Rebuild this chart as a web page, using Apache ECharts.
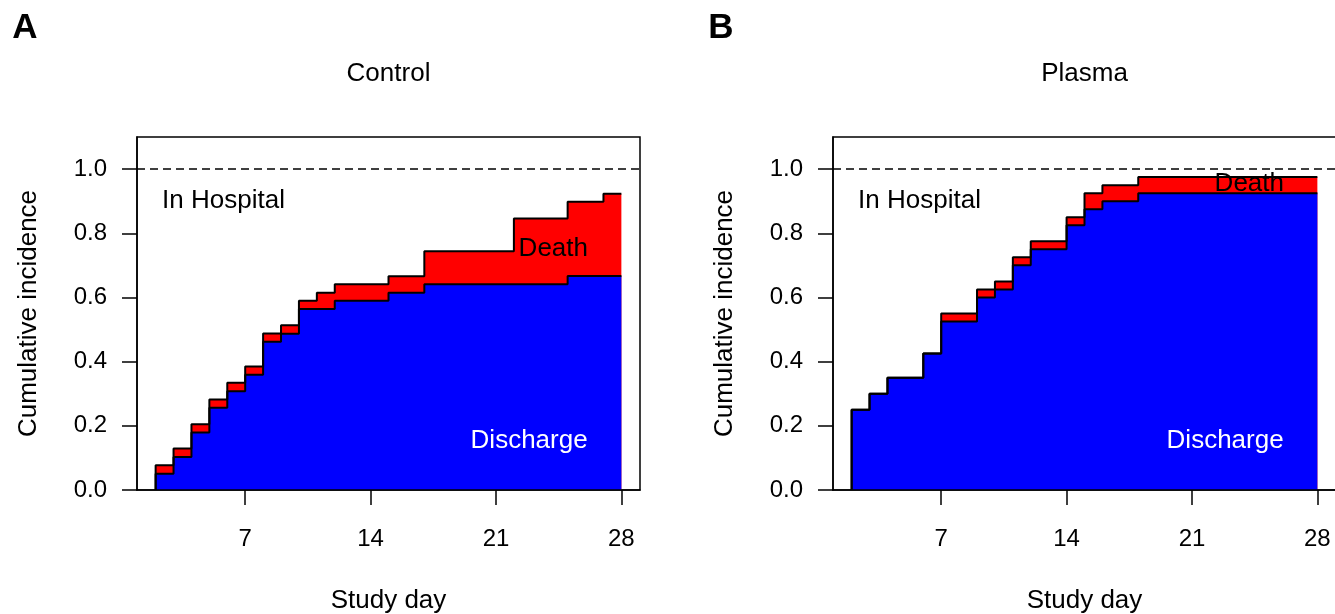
<!DOCTYPE html>
<html>
<head>
<meta charset="utf-8">
<script src="https://cdn.jsdelivr.net/npm/echarts@6/dist/echarts.min.js"></script>
<style>
  html, body { margin: 0; padding: 0; background: #fff; }
  #chart { width: 1335px; height: 614px; }
</style>
</head>
<body>
<div id="chart"></div>
<script>
// study days where the curves change (each value holds until the next day)
const controlDays = [2, 3, 4, 5, 6, 7, 8, 9, 10, 11, 12, 15, 17, 22, 25, 27, 28];
const controlDischarge = [0.051, 0.103, 0.179, 0.256, 0.308, 0.359, 0.462, 0.487, 0.564, 0.564, 0.590, 0.615, 0.641, 0.641, 0.667, 0.667, 0.667];
const controlDeath = [0.026, 0.026, 0.026, 0.026, 0.026, 0.026, 0.026, 0.026, 0.026, 0.051, 0.051, 0.051, 0.103, 0.205, 0.231, 0.256, 0.256];

const plasmaDays = [2, 3, 4, 6, 7, 9, 10, 11, 12, 14, 15, 16, 18, 28];
const plasmaDischarge = [0.25, 0.30, 0.35, 0.425, 0.525, 0.60, 0.625, 0.70, 0.75, 0.825, 0.875, 0.90, 0.925, 0.925];
const plasmaDeath = [0, 0, 0, 0, 0.025, 0.025, 0.025, 0.025, 0.025, 0.025, 0.05, 0.05, 0.05, 0.05];

const xTicks = [7, 14, 21, 28];
const yTicks = [0, 0.2, 0.4, 0.6, 0.8, 1.0];
const panelTitles = ['Control', 'Plasma'];
const panelLetters = ['A', 'B'];
const stateNames = ['In Hospital', 'Death', 'Discharge'];

const FONT = '"Liberation Sans", Arial, sans-serif';
const BLUE = '#0000ff';
const RED = '#ff0000';

// step points, starting from zero on the first day
function stepPoints(days, vals) {
  const pts = [[days[0], 0]];
  days.forEach((d, i) => pts.push([d, vals[i]]));
  return pts;
}

const panels = [
  { days: controlDays, dis: controlDischarge, death: controlDeath, deathY: 0.752 },
  { days: plasmaDays, dis: plasmaDischarge, death: plasmaDeath, deathY: 0.953 },
];

const gridLefts = [137, 833];
const grid = [], xAxis = [], yAxis = [], series = [], graphic = [];

panels.forEach((p, i) => {
  grid.push({
    left: gridLefts[i], top: 137, width: 503, height: 353,
    outerBoundsMode: 'none', containLabel: false,
    show: true, borderColor: '#000', borderWidth: 1.5, backgroundColor: 'transparent'
  });
  xAxis.push({
    type: 'value', gridIndex: i, min: 0.96, max: 29.04, z: 10,
    splitLine: { show: false },
    axisLine: { show: true, onZero: false, lineStyle: { color: '#000', width: 1.5 } },
    axisTick: { show: true, length: 15, customValues: xTicks, lineStyle: { color: '#000', width: 1.5 } },
    axisLabel: { customValues: xTicks, margin: 37, color: '#000', fontSize: 24, fontFamily: FONT },
    name: 'Study day', nameLocation: 'middle', nameGap: 98,
    nameTextStyle: { color: '#000', fontSize: 26, fontFamily: FONT }
  });
  yAxis.push({
    type: 'value', gridIndex: i, min: 0, max: 1.1,
    splitLine: { show: false },
    axisLine: { show: true, lineStyle: { color: '#000', width: 1.5 } },
    axisTick: { show: true, length: 15, customValues: yTicks, lineStyle: { color: '#000', width: 1.5 } },
    axisLabel: {
      customValues: yTicks, margin: 30, color: '#000', fontSize: 24, fontFamily: FONT,
      formatter: v => v.toFixed(1)
    },
    name: 'Cumulative incidence', nameLocation: 'middle', nameGap: 95,
    nameTextStyle: { color: '#000', fontSize: 26, fontFamily: FONT }
  });

  const total = p.dis.map((v, k) => +(v + p.death[k]).toFixed(4));

  // death stacked on discharge: draw the total first, then discharge over it
  series.push({
    type: 'line', xAxisIndex: i, yAxisIndex: i, step: 'end', symbol: 'none', silent: true,
    data: stepPoints(p.days, total),
    lineStyle: { color: '#000', width: 2 },
    areaStyle: { color: RED, opacity: 1 },
    markLine: {
      silent: true, symbol: ['none', 'none'], label: { show: false },
      lineStyle: { color: '#000', type: [8, 5], width: 1.5 },
      data: [{ yAxis: 1 }]
    }
  });
  series.push({
    type: 'line', xAxisIndex: i, yAxisIndex: i, step: 'end', symbol: 'none', silent: true,
    data: stepPoints(p.days, p.dis),
    lineStyle: { color: '#000', width: 2 },
    areaStyle: { color: BLUE, opacity: 1 }
  });

  // state labels
  series.push({
    type: 'scatter', xAxisIndex: i, yAxisIndex: i, symbolSize: 0, silent: true, z: 5,
    itemStyle: { opacity: 1 },
    label: { show: true, opacity: 1, formatter: '{b}', position: [0, 0], verticalAlign: 'middle', fontSize: 26, fontFamily: FONT },
    data: [
      { name: stateNames[0], value: [2.36, 0.90], label: { color: '#000', align: 'left' } },
      { name: stateNames[1], value: [24.2, p.deathY], label: { color: '#000', align: 'center' } },
      { name: stateNames[2], value: [22.85, 0.154], label: { color: '#fff', align: 'center' } }
    ]
  });

  graphic.push({
    type: 'text', x: gridLefts[i] - 112, y: 28,
    style: { text: panelLetters[i], fill: '#000', font: 'bold 35px ' + FONT, textAlign: 'center', textVerticalAlign: 'middle' }
  });
  graphic.push({
    type: 'text', x: gridLefts[i] + 251.5, y: 74,
    style: { text: panelTitles[i], fill: '#000', font: '26px ' + FONT, textAlign: 'center', textVerticalAlign: 'middle' }
  });
});

const chart = echarts.init(document.getElementById('chart'), null, { renderer: 'canvas' });
chart.setOption({
  animation: false,
  backgroundColor: '#fff',
  grid, xAxis, yAxis, series, graphic
});
</script>
</body>
</html>
